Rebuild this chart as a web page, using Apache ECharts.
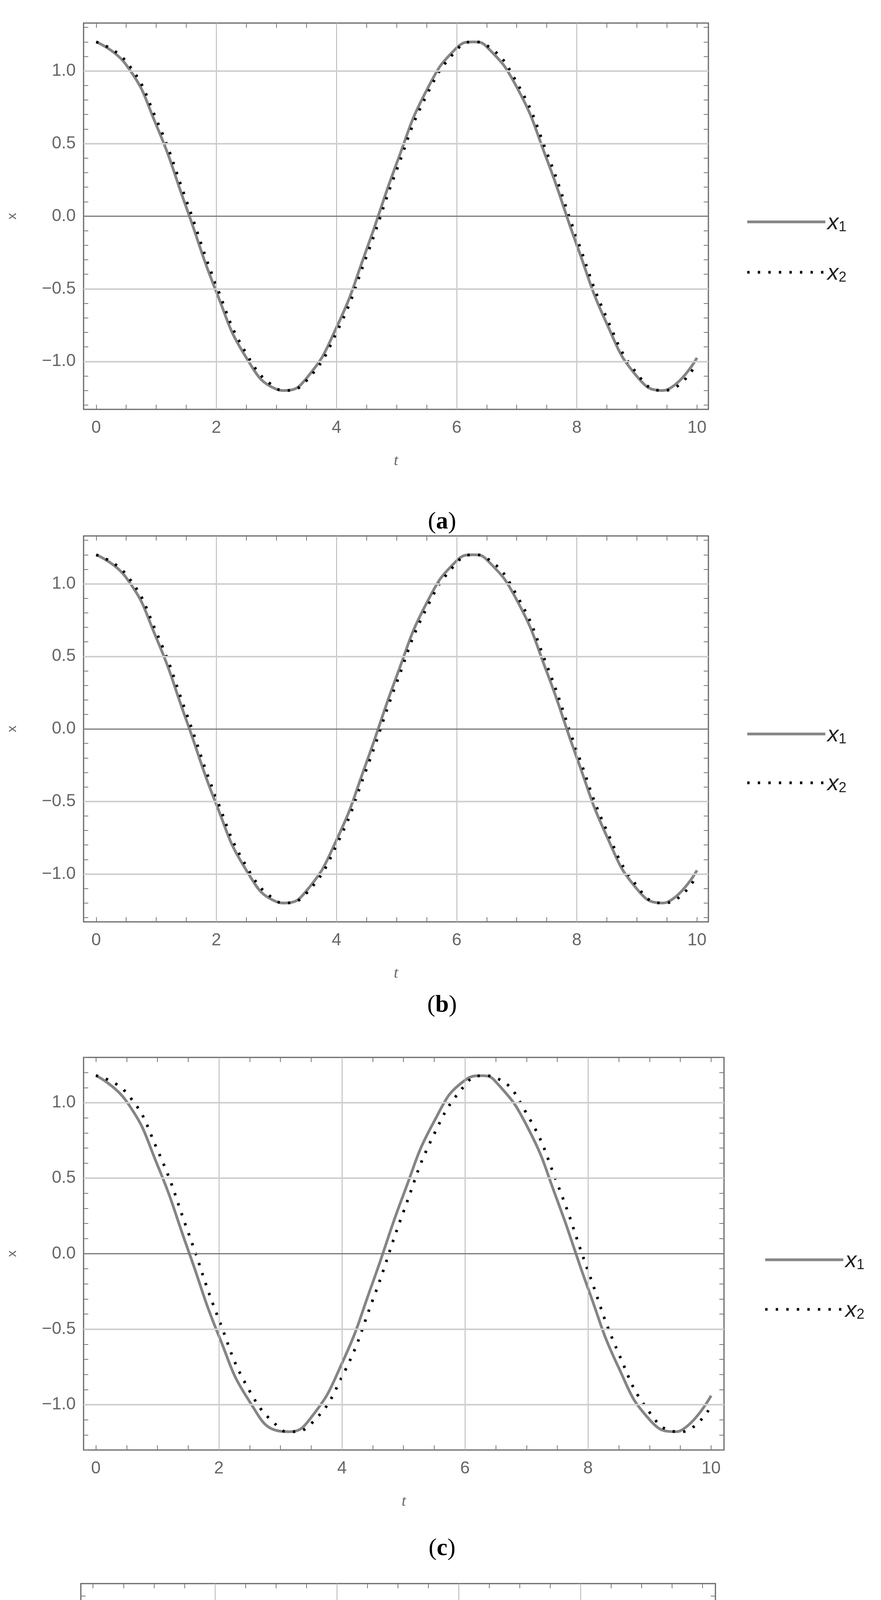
<!DOCTYPE html>
<html><head><meta charset="utf-8">
<script src="https://cdn.jsdelivr.net/npm/echarts@6/dist/echarts.min.js"></script>
<style>html,body{margin:0;padding:0;background:#fff}#c{width:2256px;height:5385px}</style>
</head><body><div id="c"></div>
<script>
const t = [0,0.5,1,1.5,2,2.5,3,3.14,3.5,4,4.5,5,5.5,6,6.28,6.5,7,7.5,8,8.5,9,9.42,9.5,10];
const x1a = [1.2,1.042,0.628,0.061,-0.521,-0.975,-1.191,-1.2,-1.116,-0.766,-0.230,0.363,0.867,1.159,1.2,1.167,0.889,0.393,-0.199,-0.741,-1.103,-1.2,-1.195,-0.975];
const x2a = [1.2,1.064,0.668,0.109,-0.477,-0.947,-1.185,-1.2,-1.132,-0.802,-0.276,0.317,0.833,1.145,1.2,1.177,0.921,0.439,-0.151,-0.703,-1.083,-1.2,-1.199,-1.010];
const x1b = [1.2,1.042,0.628,0.061,-0.521,-0.975,-1.191,-1.2,-1.116,-0.766,-0.230,0.363,0.867,1.159,1.2,1.167,0.889,0.393,-0.199,-0.741,-1.103,-1.2,-1.195,-0.975];
const x2b = [1.2,1.064,0.668,0.109,-0.477,-0.947,-1.185,-1.2,-1.132,-0.802,-0.276,0.317,0.833,1.145,1.2,1.177,0.921,0.439,-0.151,-0.703,-1.083,-1.2,-1.199,-1.010];
const x1c = [1.18,1.008,0.588,0.024,-0.545,-0.980,-1.176,-1.179,-1.084,-0.726,-0.191,0.392,0.878,1.149,1.179,1.139,0.851,0.354,-0.230,-0.757,-1.099,-1.179,-1.173,-0.940];
const x2c = [1.18,1.064,0.688,0.142,-0.437,-0.910,-1.160,-1.179,-1.126,-0.816,-0.307,0.278,0.794,1.117,1.179,1.165,0.929,0.464,-0.114,-0.663,-1.051,-1.179,-1.181,-1.010];
const x1d = [1.15,0.954,0.524,-0.034,-0.584,-0.990,-1.154,-1.144,-1.037,-0.665,-0.130,0.436,0.896,1.136,1.144,1.098,0.791,0.291,-0.281,-0.784,-1.095,-1.144,-1.138,-0.880];
const x2d = [1.15,1.064,0.718,0.196,-0.374,-0.852,-1.122,-1.144,-1.117,-0.839,-0.354,0.216,0.734,1.072,1.144,1.148,0.943,0.507,-0.053,-0.600,-1.001,-1.144,-1.156,-1.028];
const xLabels = [0,2,4,6,8,10];
const xTicks = [0,0.5,1,1.5,2,2.5,3,3.5,4,4.5,5,5.5,6,6.5,7,7.5,8,8.5,9,9.5,10];
const yLabels = [-1,-0.5,0,0.5,1];
const yTicks = [-1.3,-1.2,-1.1,-1,-0.9,-0.8,-0.7,-0.6,-0.5,-0.4,-0.3,-0.2,-0.1,0,0.1,0.2,0.3,0.4,0.5,0.6,0.7,0.8,0.9,1,1.1,1.2,1.3];
const vGrid = [2,4,6,8];
const hGrid = [-1,-0.5,0.5,1];
const captions = ['a','b','c','d'];

const panels = [
  {x1:x1a,x2:x2a,left:214,width:1600,top:59,height:989,ymin:-1.33,ymax:1.33,xmin:-0.21,xmax:10.19,lgLeft:1905,lgTop:537,lgGap:71,cap:1341},
  {x1:x1b,x2:x2b,left:214,width:1600,top:1372,height:988,ymin:-1.33,ymax:1.33,xmin:-0.21,xmax:10.19,lgLeft:1905,lgTop:1848,lgGap:67,cap:2578},
  {x1:x1c,x2:x2c,left:214,width:1640,top:2707,height:1005,ymin:-1.30,ymax:1.30,xmin:-0.2,xmax:10.21,lgLeft:1951,lgTop:3194,lgGap:69,cap:3969},
  {x1:x1d,x2:x2d,left:205,width:1627,top:4054,height:1002,ymin:-1.27,ymax:1.28,xmin:-0.2,xmax:10.21,lgLeft:1929,lgTop:4556,lgGap:59,cap:5310}
];
const FONT = '"Liberation Sans Narrow","Liberation Sans",sans-serif';
const DASH = [6,21];

const opt = {animation:false, backgroundColor:'#fff', grid:[], xAxis:[], yAxis:[], series:[], legend:[], title:[]};
panels.forEach((p,i)=>{
  opt.grid.push({left:p.left, top:p.top, width:p.width, height:p.height, show:true, borderColor:'#666', borderWidth:3, backgroundColor:'transparent'});
  const tick = {show:true, inside:true, length:12, lineStyle:{color:'#777', width:2}};
  const noLine = {show:false, onZero:false};
  opt.xAxis.push({type:'value', gridIndex:i, min:p.xmin, max:p.xmax, position:'bottom',
    axisLine:noLine, splitLine:{show:false},
    axisTick:Object.assign({customValues:xTicks}, tick),
    axisLabel:{customValues:xLabels, formatter:v=>String(v), color:'#666', fontSize:44, fontFamily:FONT, margin:26},
    name:'t', nameLocation:'middle', nameGap:112, nameTextStyle:{fontStyle:'italic', fontSize:40, color:'#666', fontFamily:'"Liberation Serif",serif'}});
  opt.xAxis.push({type:'value', gridIndex:i, min:p.xmin, max:p.xmax, position:'top',
    axisLine:noLine, splitLine:{show:false}, axisLabel:{show:false},
    axisTick:Object.assign({customValues:xTicks}, tick)});
  opt.yAxis.push({type:'value', gridIndex:i, min:p.ymin, max:p.ymax, position:'left',
    axisLine:noLine, splitLine:{show:false},
    axisTick:Object.assign({customValues:yTicks}, tick),
    axisLabel:{customValues:yLabels, formatter:v=>(v<0?'\u2212':'')+Math.abs(v).toFixed(1), color:'#666', fontSize:44, fontFamily:FONT, margin:20},
    name:'x', nameLocation:'middle', nameGap:165, nameTextStyle:{fontSize:34, color:'#666', fontFamily:FONT}});
  opt.yAxis.push({type:'value', gridIndex:i, min:p.ymin, max:p.ymax, position:'right',
    axisLine:noLine, splitLine:{show:false}, axisLabel:{show:false},
    axisTick:Object.assign({customValues:yTicks}, tick)});
  const xi = i*2, yi = i*2;
  opt.series.push({type:'line', name:'grid'+i, xAxisIndex:xi, yAxisIndex:yi, data:[], silent:true,
    markLine:{silent:true, symbol:'none', label:{show:false},
      data:[].concat(
        vGrid.map(v=>({xAxis:v, lineStyle:{color:'#b5b5b5', width:2, type:'solid'}})),
        hGrid.map(v=>({yAxis:v, lineStyle:{color:'#cfcfcf', width:4, type:'solid'}})),
        [{yAxis:0, lineStyle:{color:'#7a7a7a', width:3, type:'solid'}}])}});
  opt.series.push({type:'line', name:'x1', xAxisIndex:xi, yAxisIndex:yi, smooth:0.5, symbol:'none',
    data:t.map((tt,k)=>[tt,p.x1[k]]), lineStyle:{color:'#858585', width:7}, itemStyle:{color:'#858585'}, z:3});
  opt.series.push({type:'line', name:'x2', xAxisIndex:xi, yAxisIndex:yi, smooth:0.5, symbol:'none',
    data:t.map((tt,k)=>[tt,p.x2[k]]), lineStyle:{color:'#000', width:7, type:DASH, cap:'butt'}, itemStyle:{color:'#000'}, z:4});
  opt.legend.push({data:[
      {name:'x1', itemStyle:{opacity:0}, lineStyle:{color:'#858585', width:7, type:'solid'}},
      {name:'x2', itemStyle:{opacity:0}, lineStyle:{color:'#000', width:7, type:DASH}}],
    orient:'vertical', left:p.lgLeft, top:p.lgTop, itemWidth:200, itemHeight:50, itemGap:p.lgGap,
    selectedMode:false, itemStyle:{opacity:0},
    formatter:n=>'{a|x}{s|'+n.slice(1)+'}',
    textStyle:{rich:{a:{fontSize:58, fontStyle:'italic', color:'#222', fontFamily:FONT, verticalAlign:'bottom'}, s:{fontSize:36, color:'#222', fontFamily:FONT, padding:[28,0,0,0], verticalAlign:'bottom'}}}});
  opt.title.push({text:'({b|'+captions[i]+'})', left:1127, top:p.cap-40, textAlign:'center',
    textStyle:{fontFamily:'"Liberation Serif",serif', fontSize:62, fontWeight:'normal', color:'#000', rich:{b:{fontFamily:'"Liberation Serif",serif', fontSize:62, fontWeight:'bold', color:'#000'}}}});
});
const chart = echarts.init(document.getElementById('c'), null, {renderer:'canvas'});
chart.setOption(opt);
</script></body></html>
